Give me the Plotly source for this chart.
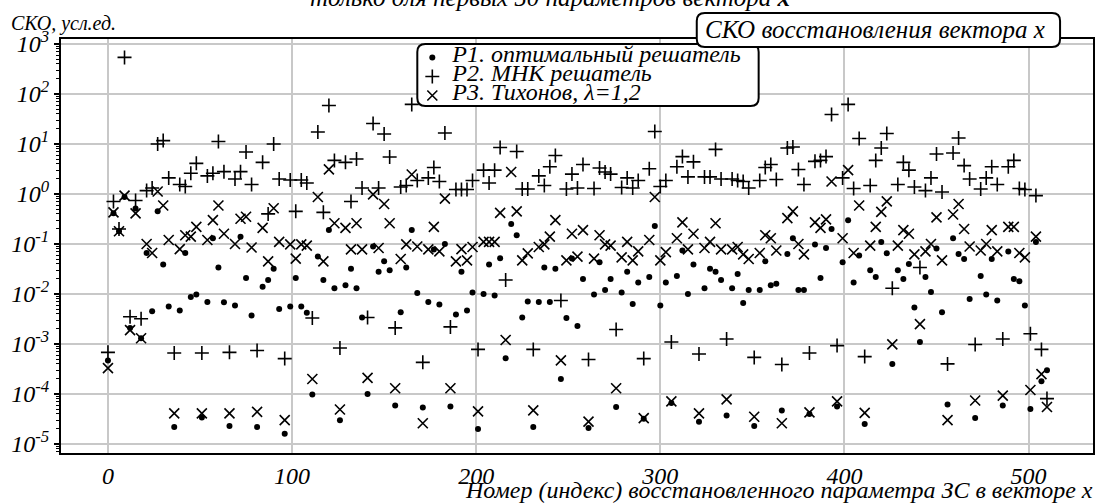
import plotly.graph_objects as go

# ---------------- data ----------------
index = list(range(0, 511, 3))

p1_optimal = [
    4.7e-4, 0.41, 0.18, 0.87, 2.1e-3, 0.51, 1.3e-3, 6.6e-2, 4.5e-3, 0.45,
    3.9e-2, 5.6e-3, 2.2e-5, 4.7e-3, 6.6e-2, 8.7e-3, 9.8e-3, 3.4e-5, 6.9e-3, 0.13,
    3.4e-2, 6.8e-3, 2.3e-5, 5.9e-3, 0.14, 2.1e-2, 3.7e-3, 2.2e-5, 1.4e-2, 1.9e-2,
    3.2e-2, 5.0e-3, 1.6e-5, 5.6e-3, 2.1e-2, 5.6e-3, 4.2e-3, 9.8e-5, 5.6e-2, 1.9e-2,
    0.19, 1.3e-2, 3.0e-5, 1.5e-2, 3.2e-2, 1.3e-2, 3.4e-3, 1.0e-4, 8.9e-2, 2.8e-2,
    4.5e-2, 3.0e-2, 5.9e-5, 4.3e-3, 3.4e-2, 0.19, 1.05e-2, 5.4e-5, 6.9e-3, 7.8e-2,
    6.2e-3, 0.10, 5.6e-5, 3.9e-3, 2.8e-2, 4.7e-3, 1.07e-2, 2.0e-5, 1.0e-2, 3.9e-2,
    9.3e-3, 5.2e-2, 5.2e-4, 0.25, 0.15, 3.4e-3, 7.1e-3, 2.2e-5, 6.9e-3, 3.4e-2,
    6.9e-3, 3.2e-2, 2.0e-4, 3.3e-3, 5.1e-2, 2.3e-3, 2.0e-2, 2.1e-5, 9.8e-3, 4.3e-2,
    1.2e-2, 2.0e-2, 5.5e-5, 1.07e-2, 2.8e-2, 6.3e-3, 1.7e-2, 3.2e-5, 2.2e-2, 0.23,
    5.9e-3, 1.7e-2, 6.6e-5, 2.3e-2, 7.4e-2, 1.0e-2, 3.9e-2, 2.8e-5, 1.3e-2, 3.2e-2,
    2.8e-2, 1.9e-2, 3.7e-5, 1.3e-2, 2.5e-2, 6.6e-3, 1.2e-2, 2.3e-5, 1.2e-2, 4.5e-2,
    1.5e-2, 1.6e-2, 4.7e-5, 6.3e-2, 0.13, 1.2e-2, 1.2e-2, 4.0e-5, 9.8e-2, 2.1e-2,
    8.3e-2, 0.20, 5.6e-5, 4.3e-2, 0.30, 1.7e-2, 5.9e-2, 2.5e-5, 3.0e-2, 2.2e-2,
    0.11, 6.5e-2, 4.0e-4, 3.0e-2, 2.0e-2, 4.0e-2, 5.4e-3, 1.1e-3, 2.2e-2, 1.1e-2,
    8.1e-2, 4.3e-3, 6.2e-5, 0.13, 6.3e-2, 5.0e-2, 7.9e-3, 3.3e-5, 2.3e-2, 9.8e-3,
    5.0e-2, 7.4e-3, 5.9e-5, 7.1e-2, 2.0e-2, 1.8e-2, 5.9e-3, 5.0e-5, 0.11, 1.8e-4,
    3.0e-4,
]

p2_mnk = [
    6.8e-4, 0.71, 0.20, 540, 3.5e-3, 0.74, 3.2e-3, 1.17, 1.32, 10.0,
    11.7, 2.1, 6.6e-4, 1.55, 1.41, 2.6, 4.1, 6.6e-4, 2.3, 2.6,
    11.2, 2.8, 6.8e-4, 2.0, 2.8, 6.9, 1.55, 7.4e-4, 4.3, 0.40,
    10.0, 2.0, 5.1e-4, 1.9, 0.45, 1.9, 1.66, 3.3e-3, 17.4, 0.43,
    59, 4.7, 8.3e-4, 4.3, 0.71, 5.0, 1.32, 3.4e-3, 25.7, 1.32,
    15.8, 5.5, 2.1e-3, 1.38, 1.48, 62, 1.86, 4.3e-4, 2.1, 3.4,
    1.78, 16.6, 2.2e-3, 1.23, 1.23, 1.23, 1.86, 7.8e-4, 3.0, 1.66,
    3.0, 8.5, 1.9e-2, None, 7.1, 1.26, 1.26, 7.8e-4, 2.3, 1.48,
    3.5, 5.9, 7.4e-3, 1.26, 2.5, 1.32, 3.9, 4.9e-4, 1.29, 3.3,
    2.75, 2.5, 1.95e-3, 1.35, 2.1, 1.32, 1.86, 5.1e-4, 3.2, 17.8,
    1.41, 1.86, 1.1e-3, 3.5, 5.6, 2.2, 4.4, 6.3e-4, 2.2, 2.2,
    7.8, 2.0, 1.26e-3, 2.0, 1.86, 1.78, 1.32, 5.4e-4, 1.86, 3.4,
    3.9, 1.95, 3.9e-4, 8.3, 8.7, 3.1, 1.55, 6.6e-4, 4.5, 4.7,
    5.6, 39, 9.3e-4, 2.1, 62, 1.29, 12.9, 5.6e-4, 1.48, 4.7,
    8.3, 16.2, 1.3e-2, 1.55, 4.3, 3.0, 1.38, 3.4e-2, 1.17, 2.1,
    6.3, 1.1, 4.0e-4, 6.6, 13.2, 3.7, 2.0, 9.8e-4, 1.26, 2.1,
    3.5, 1.55, 1.26e-3, 3.5, 4.7, 1.29, 1.23, 1.6e-3, 0.93, 7.8e-4,
    8.1e-5,
]

p3_tikhonov = [
    3.3e-4, 0.43, 0.18, 0.93, 1.9e-3, 0.41, 1.3e-3, 0.10, 6.6e-2, 1.12,
    0.59, 0.12, 4.1e-5, 7.9e-2, 0.15, 0.14, 0.22, 4.1e-5, 0.12, 0.30,
    0.59, 0.16, 4.1e-5, 0.10, 0.32, 0.35, 8.5e-2, 4.4e-5, 0.21, 4.5e-2,
    0.52, 0.11, 3.0e-5, 9.8e-2, 5.1e-2, 9.8e-2, 9.3e-2, 2.0e-4, 0.87, 4.5e-2,
    3.1, 0.26, 4.9e-5, 0.21, 7.8e-2, 0.26, 7.8e-2, 2.1e-4, 0.98, 8.3e-2,
    0.63, 0.26, 1.3e-4, 5.0e-2, 9.8e-2, 2.45, 8.9e-2, 2.6e-5, 7.8e-2, 0.22,
    7.1e-2, 0.81, 1.3e-4, 4.5e-2, 7.9e-2, 4.7e-2, 8.7e-2, 4.5e-5, 0.11, 0.11,
    0.11, 0.42, 1.2e-3, 2.75, 0.45, 4.7e-2, 6.5e-2, 4.7e-5, 8.7e-2, 9.8e-2,
    0.14, 0.30, 4.7e-4, 4.7e-2, 0.16, 5.6e-2, 0.19, 2.8e-5, 5.1e-2, 0.15,
    9.8e-2, 9.3e-2, 1.3e-4, 5.4e-2, 0.11, 4.7e-2, 7.1e-2, 3.3e-5, 0.12, 0.87,
    4.7e-2, 6.9e-2, 7.1e-5, 0.13, 0.27, 7.8e-2, 0.16, 4.1e-5, 8.3e-2, 0.11,
    0.26, 7.8e-2, 7.8e-5, 7.8e-2, 8.7e-2, 6.2e-2, 5.0e-2, 3.5e-5, 6.6e-2, 0.15,
    0.13, 7.4e-2, 2.6e-5, 0.33, 0.45, 0.10, 6.2e-2, 4.3e-5, 0.27, 0.21,
    0.31, 1.78, 7.1e-5, 0.13, 3.0, 6.6e-2, 0.59, 4.2e-5, 9.3e-2, 0.22,
    0.44, 0.71, 9.8e-4, 9.3e-2, 0.19, 0.16, 6.2e-2, 2.5e-3, 7.1e-2, 0.10,
    0.34, 4.7e-2, 3.0e-5, 0.39, 0.63, 0.20, 8.9e-2, 7.4e-5, 7.4e-2, 0.10,
    0.19, 7.1e-2, 9.3e-5, 0.22, 0.22, 6.6e-2, 5.4e-2, 1.2e-4, 0.14, 2.5e-4,
    5.5e-5,
]

series_names = ["P1. оптимальный решатель", "P2. МНК решатель", "P3. Тихонов, λ=1,2"]
x_ticks = [0, 100, 200, 300, 400, 500]
y_tick_exp = [-5, -4, -3, -2, -1, 0, 1, 2, 3]

# ---------------- layout helpers (pixel geometry of the plot area) ----------------
W, H = 1101, 504
L, R, T, B = 61, 1095, 39, 453
FONT = "Liberation Serif"


def pxx(x):
    return (x - L) / (R - L)


def pxy(y):
    return (B - y) / (B - T)


def it(s):
    return f"<i>{s}</i>"


def rounded_rect(x0, y0, x1, y1, r):
    pts = [
        ("M", [(x0 + r, y0)]),
        ("L", [(x1 - r, y0)]),
        ("Q", [(x1, y0), (x1, y0 + r)]),
        ("L", [(x1, y1 - r)]),
        ("Q", [(x1, y1), (x1 - r, y1)]),
        ("L", [(x0 + r, y1)]),
        ("Q", [(x0, y1), (x0, y1 - r)]),
        ("L", [(x0, y0 + r)]),
        ("Q", [(x0, y0), (x0 + r, y0)]),
    ]
    s = ""
    for cmd, ps in pts:
        s += cmd + " " + " ".join(f"{pxx(a):.5f},{pxy(b):.5f}" for a, b in ps) + " "
    return s + "Z"


def legend_name(s):
    return f'<span style="font-size:24px"><i>{s}</i></span>'


fig = go.Figure()

fig.add_trace(go.Scatter(
    x=index, y=p1_optimal, mode="markers", name=legend_name(series_names[0]),
    marker=dict(symbol="circle", size=6, color="black", line=dict(width=0)),
))
fig.add_trace(go.Scatter(
    x=index, y=p2_mnk, mode="markers", name=legend_name(series_names[1]),
    marker=dict(symbol="cross-thin", size=10, color="black",
                line=dict(width=1.6, color="black")),
))
fig.add_trace(go.Scatter(
    x=index, y=p3_tikhonov, mode="markers", name=legend_name(series_names[2]),
    marker=dict(symbol="x-thin", size=10, color="black",
                line=dict(width=1.6, color="black")),
))

minor_vals = [m * 10.0 ** k for k in range(-6, 3) for m in range(2, 10)]

fig.update_layout(
    width=W, height=H,
    margin=dict(l=L, r=W - R, t=T, b=H - B, pad=0),
    paper_bgcolor="white", plot_bgcolor="white",
    font=dict(family=FONT, size=21, color="black"),
    showlegend=True,
    legend=dict(
        x=pxx(413), y=pxy(43), xanchor="left", yanchor="top",
        bgcolor="rgba(0,0,0,0)", borderwidth=0,
        font=dict(family=FONT, size=12, color="black"),
        itemwidth=30, tracegroupgap=0,
    ),
    xaxis=dict(
        range=[-25.5, 535], tickvals=x_ticks, ticktext=[it(v) for v in x_ticks],
        showgrid=True, gridcolor="#c8c8c8", gridwidth=1.5,
        showline=True, linecolor="black", linewidth=2, mirror=True,
        ticks="", zeroline=False,
        tickfont=dict(family=FONT, size=24),
    ),
    yaxis=dict(
        type="log", range=[-5.18, 3.1],
        tickvals=[10.0 ** e for e in y_tick_exp],
        ticktext=[it(f"10<sup>{e}</sup>") for e in y_tick_exp],
        showgrid=True, gridcolor="#c8c8c8", gridwidth=1.5,
        showline=True, linecolor="black", linewidth=2, mirror=True,
        ticks="outside", ticklen=5, tickwidth=1.5, tickcolor="black",
        zeroline=False,
        tickfont=dict(family=FONT, size=24),
        minor=dict(tickvals=minor_vals, ticks="outside", ticklen=3,
                   tickwidth=1, tickcolor="black", showgrid=False),
    ),
    shapes=[
        dict(type="path", xref="paper", yref="paper", layer="above",
             path=rounded_rect(418, 44, 760, 106, 8),
             fillcolor="white", line=dict(color="black", width=2)),
        dict(type="path", xref="paper", yref="paper", layer="above",
             path=rounded_rect(698, 13, 1062, 47, 8),
             fillcolor="white", line=dict(color="black", width=2)),
    ],
    annotations=[
        dict(text=it("СКО восстановления вектора x"), xref="paper", yref="paper",
             x=pxx(877), y=pxy(30), xanchor="center", yanchor="middle",
             showarrow=False, font=dict(family=FONT, size=25)),
        dict(text=it("СКО, усл.ед."), xref="paper", yref="paper",
             x=pxx(9), y=pxy(23), xanchor="left", yanchor="middle",
             showarrow=False, font=dict(family=FONT, size=20)),
        dict(text=it("Номер (индекс) восстановленного параметра ЗС в векторе x"),
             xref="paper", yref="paper",
             x=pxx(1097), y=pxy(490), xanchor="right", yanchor="middle",
             showarrow=False, font=dict(family=FONT, size=24)),
        dict(text=it("только для первых 50 параметров вектора <b>x</b>"),
             xref="paper", yref="paper",
             x=pxx(551), y=pxy(-3), xanchor="center", yanchor="middle",
             showarrow=False, font=dict(family=FONT, size=25)),
    ],
)

fig.write_html("out.html", config={"displayModeBar": False},
               post_script="document.body.style.margin='0';")
